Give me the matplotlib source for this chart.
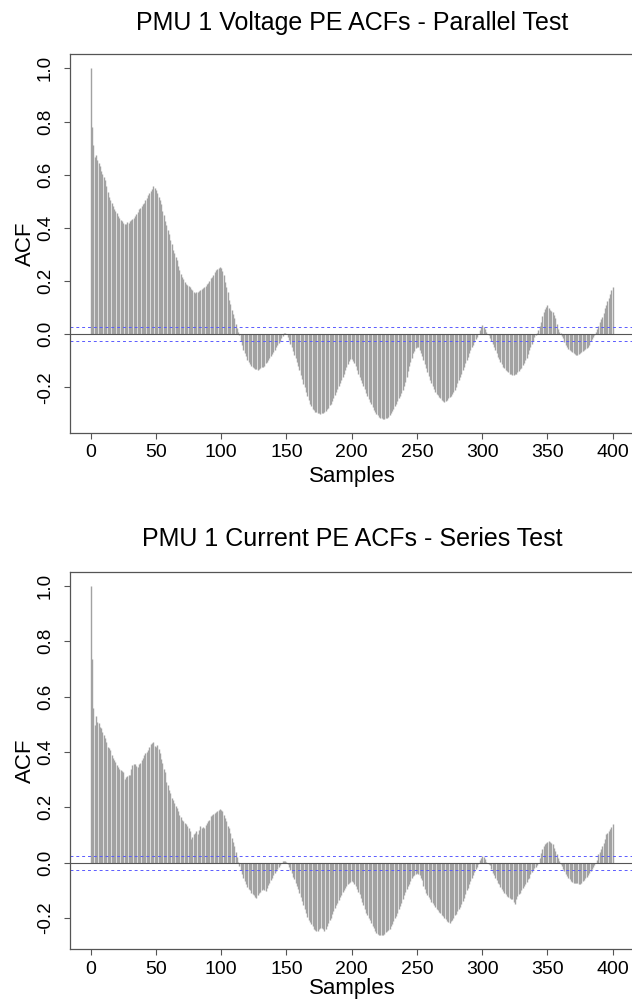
import numpy as np
import matplotlib
matplotlib.use("Agg")
import matplotlib.pyplot as plt

plt.rcParams['font.family'] = ['Liberation Sans', 'DejaVu Sans']
plt.rcParams['axes.unicode_minus'] = False

# sample acf values, lag 0..400 (10 per row)
lags = np.arange(0, 401)

acf_voltage = [
    1.000, 0.781, 0.712, 0.668, 0.674, 0.656, 0.643, 0.632, 0.615, 0.603,
    0.592, 0.580, 0.558, 0.535, 0.518, 0.506, 0.494, 0.482, 0.472, 0.462,
    0.455, 0.444, 0.438, 0.430, 0.424, 0.418, 0.415, 0.416, 0.422, 0.418,
    0.426, 0.428, 0.433, 0.438, 0.445, 0.452, 0.458, 0.470, 0.476, 0.482,
    0.490, 0.495, 0.506, 0.512, 0.523, 0.530, 0.540, 0.548, 0.557, 0.551,
    0.542, 0.530, 0.517, 0.505, 0.490, 0.462, 0.448, 0.425, 0.410, 0.392,
    0.378, 0.355, 0.340, 0.318, 0.304, 0.290, 0.279, 0.255, 0.241, 0.228,
    0.216, 0.206, 0.197, 0.190, 0.185, 0.180, 0.178, 0.170, 0.166, 0.160,
    0.154, 0.157, 0.159, 0.163, 0.168, 0.170, 0.172, 0.176, 0.181, 0.187,
    0.194, 0.200, 0.210, 0.216, 0.222, 0.233, 0.241, 0.246, 0.248, 0.254,
    0.250, 0.236, 0.222, 0.196, 0.178, 0.160, 0.128, 0.112, 0.092, 0.076,
    0.060, 0.038, 0.022, 0.010, -0.004, -0.025, -0.040, -0.058, -0.070, -0.082,
    -0.096, -0.105, -0.112, -0.118, -0.123, -0.127, -0.130, -0.131, -0.133, -0.130,
    -0.128, -0.125, -0.123, -0.118, -0.110, -0.106, -0.098, -0.090, -0.082, -0.075,
    -0.066, -0.058, -0.050, -0.042, -0.032, -0.024, -0.016, -0.008, 0.004, 0.006,
    0.002, -0.010, -0.022, -0.036, -0.048, -0.062, -0.077, -0.091, -0.106, -0.120,
    -0.136, -0.152, -0.170, -0.186, -0.200, -0.216, -0.232, -0.248, -0.262, -0.272,
    -0.280, -0.286, -0.292, -0.294, -0.297, -0.298, -0.299, -0.298, -0.296, -0.292,
    -0.288, -0.283, -0.276, -0.268, -0.261, -0.250, -0.240, -0.228, -0.217, -0.205,
    -0.195, -0.184, -0.173, -0.160, -0.148, -0.135, -0.124, -0.112, -0.100, -0.094,
    -0.092, -0.100, -0.110, -0.120, -0.134, -0.148, -0.161, -0.172, -0.184, -0.196,
    -0.208, -0.220, -0.232, -0.244, -0.254, -0.264, -0.274, -0.284, -0.292, -0.300,
    -0.306, -0.310, -0.314, -0.316, -0.318, -0.318, -0.317, -0.314, -0.310, -0.305,
    -0.298, -0.290, -0.280, -0.272, -0.262, -0.252, -0.242, -0.232, -0.222, -0.210,
    -0.196, -0.180, -0.160, -0.140, -0.120, -0.104, -0.088, -0.072, -0.062, -0.052,
    -0.048, -0.050, -0.058, -0.070, -0.084, -0.098, -0.112, -0.126, -0.142, -0.158,
    -0.172, -0.184, -0.196, -0.206, -0.216, -0.224, -0.230, -0.235, -0.240, -0.246,
    -0.250, -0.255, -0.252, -0.246, -0.242, -0.238, -0.232, -0.225, -0.218, -0.211,
    -0.198, -0.184, -0.172, -0.160, -0.148, -0.136, -0.122, -0.110, -0.098, -0.085,
    -0.072, -0.060, -0.050, -0.040, -0.029, -0.020, -0.010, 0.000, 0.016, 0.026,
    0.034, 0.028, 0.018, 0.008, 0.002, -0.004, -0.014, -0.024, -0.036, -0.048,
    -0.060, -0.072, -0.085, -0.095, -0.106, -0.114, -0.122, -0.129, -0.134, -0.140,
    -0.144, -0.148, -0.151, -0.154, -0.152, -0.150, -0.148, -0.144, -0.138, -0.132,
    -0.126, -0.117, -0.108, -0.096, -0.088, -0.076, -0.060, -0.048, -0.036, -0.024,
    -0.010, -0.004, 0.006, 0.016, 0.030, 0.047, 0.068, 0.085, 0.096, 0.104,
    0.110, 0.100, 0.091, 0.088, 0.085, 0.072, 0.059, 0.040, 0.021, 0.010,
    0.003, -0.008, -0.016, -0.028, -0.040, -0.048, -0.055, -0.060, -0.064, -0.067,
    -0.070, -0.074, -0.078, -0.079, -0.075, -0.070, -0.067, -0.064, -0.060, -0.056,
    -0.052, -0.048, -0.040, -0.025, -0.018, -0.010, -0.004, 0.008, 0.018, 0.030,
    0.047, 0.056, 0.064, 0.080, 0.098, 0.110, 0.125, 0.138, 0.150, 0.166,
    0.178,
]

acf_current = [
    1.000, 0.737, 0.557, 0.497, 0.529, 0.509, 0.503, 0.491, 0.485, 0.472,
    0.462, 0.450, 0.437, 0.418, 0.413, 0.407, 0.390, 0.377, 0.370, 0.365,
    0.352, 0.347, 0.338, 0.335, 0.332, 0.329, 0.302, 0.310, 0.314, 0.316,
    0.317, 0.340, 0.353, 0.356, 0.357, 0.350, 0.347, 0.355, 0.359, 0.370,
    0.377, 0.388, 0.395, 0.401, 0.407, 0.418, 0.428, 0.432, 0.437, 0.422,
    0.419, 0.425, 0.410, 0.395, 0.375, 0.359, 0.340, 0.329, 0.293, 0.280,
    0.263, 0.250, 0.233, 0.225, 0.215, 0.206, 0.197, 0.186, 0.173, 0.164,
    0.155, 0.150, 0.143, 0.138, 0.132, 0.124, 0.114, 0.086, 0.092, 0.102,
    0.108, 0.114, 0.102, 0.118, 0.132, 0.126, 0.128, 0.126, 0.136, 0.143,
    0.150, 0.155, 0.168, 0.173, 0.177, 0.179, 0.183, 0.185, 0.192, 0.194,
    0.191, 0.186, 0.173, 0.160, 0.149, 0.134, 0.124, 0.108, 0.090, 0.075,
    0.060, 0.040, 0.020, 0.004, -0.012, -0.026, -0.040, -0.055, -0.066, -0.078,
    -0.086, -0.094, -0.100, -0.108, -0.114, -0.118, -0.124, -0.126, -0.116, -0.110,
    -0.104, -0.098, -0.096, -0.100, -0.102, -0.090, -0.080, -0.072, -0.064, -0.055,
    -0.046, -0.038, -0.030, -0.022, -0.014, -0.008, 0.000, 0.006, 0.008, 0.008,
    0.002, -0.006, -0.016, -0.026, -0.038, -0.050, -0.060, -0.072, -0.084, -0.096,
    -0.110, -0.124, -0.138, -0.152, -0.166, -0.180, -0.196, -0.206, -0.214, -0.222,
    -0.230, -0.238, -0.242, -0.246, -0.248, -0.240, -0.236, -0.234, -0.240, -0.246,
    -0.238, -0.228, -0.218, -0.208, -0.198, -0.186, -0.174, -0.164, -0.154, -0.144,
    -0.134, -0.124, -0.115, -0.106, -0.098, -0.090, -0.084, -0.078, -0.072, -0.068,
    -0.066, -0.070, -0.078, -0.084, -0.094, -0.104, -0.114, -0.126, -0.140, -0.152,
    -0.166, -0.180, -0.190, -0.200, -0.208, -0.218, -0.228, -0.236, -0.246, -0.252,
    -0.256, -0.261, -0.262, -0.261, -0.261, -0.258, -0.251, -0.248, -0.244, -0.240,
    -0.230, -0.222, -0.212, -0.200, -0.192, -0.180, -0.166, -0.155, -0.144, -0.132,
    -0.118, -0.105, -0.094, -0.084, -0.076, -0.066, -0.056, -0.048, -0.044, -0.040,
    -0.036, -0.040, -0.046, -0.056, -0.062, -0.084, -0.096, -0.110, -0.116, -0.124,
    -0.132, -0.140, -0.146, -0.152, -0.160, -0.168, -0.172, -0.178, -0.182, -0.188,
    -0.192, -0.198, -0.204, -0.210, -0.214, -0.218, -0.212, -0.206, -0.198, -0.190,
    -0.186, -0.176, -0.166, -0.158, -0.148, -0.138, -0.128, -0.112, -0.100, -0.090,
    -0.078, -0.066, -0.054, -0.044, -0.034, -0.024, -0.014, -0.004, 0.010, 0.018,
    0.026, 0.020, 0.014, 0.004, -0.002, -0.004, -0.010, -0.024, -0.036, -0.046,
    -0.056, -0.064, -0.072, -0.078, -0.088, -0.096, -0.102, -0.108, -0.114, -0.120,
    -0.124, -0.126, -0.130, -0.132, -0.140, -0.150, -0.132, -0.120, -0.114, -0.108,
    -0.100, -0.092, -0.084, -0.076, -0.068, -0.060, -0.054, -0.042, -0.034, -0.026,
    -0.018, -0.014, -0.010, -0.002, 0.018, 0.036, 0.050, 0.060, 0.066, 0.072,
    0.075, 0.078, 0.076, 0.072, 0.066, 0.054, 0.044, 0.030, 0.018, 0.006,
    -0.004, -0.012, -0.022, -0.030, -0.040, -0.048, -0.054, -0.060, -0.066, -0.070,
    -0.072, -0.072, -0.073, -0.074, -0.076, -0.078, -0.072, -0.066, -0.062, -0.056,
    -0.050, -0.044, -0.036, -0.030, -0.022, -0.016, -0.010, 0.000, 0.010, 0.030,
    0.040, 0.048, 0.060, 0.072, 0.086, 0.102, 0.106, 0.114, 0.122, 0.130,
    0.138,
]

ci_voltage = 0.026
ci_current = 0.025

titles = ["PMU 1 Voltage PE ACFs - Parallel Test",
          "PMU 1 Current PE ACFs - Series Test"]
x_ticks = [0, 50, 100, 150, 200, 250, 300, 350, 400]
y_ticks = [-0.2, 0.0, 0.2, 0.4, 0.6, 0.8, 1.0]

W, H = 632.0, 1000.0
BAR_COL = '#a2a2a2'
AX_COL = '#555555'
CI_COL = '#5a5aff'


def draw_panel(fig, box, acf, ci, title, title_base, xlab_base):
    left, top, right, bottom = box
    ax = fig.add_axes([left / W, 1 - bottom / H, (right - left) / W, (bottom - top) / H])
    acf = np.asarray(acf)
    lo, hi = acf.min(), acf.max()
    pad = 0.04 * (hi - lo)
    ax.vlines(lags, 0, acf, color=BAR_COL, lw=1.0)
    ax.axhline(0, color=AX_COL, lw=0.8)
    ax.axhline(ci, color=CI_COL, lw=0.7, ls=(0, (3, 3)))
    ax.axhline(-ci, color=CI_COL, lw=0.7, ls=(0, (3, 3)))
    ax.set_xlim(-16, 416)
    ax.set_ylim(lo - pad, hi + pad)
    ax.set_xticks(x_ticks)
    ax.set_xticklabels([str(v) for v in x_ticks], fontsize=14)
    ax.set_yticks(y_ticks)
    ax.set_yticklabels(["%.1f" % v for v in y_ticks], fontsize=13.5,
                       rotation=90, va='center')
    ax.tick_params(axis='x', length=4.3, width=0.8, color=AX_COL, pad=4)
    ax.tick_params(axis='y', length=4.3, width=0.8, color=AX_COL, pad=7)
    for s in ax.spines.values():
        s.set_color(AX_COL)
        s.set_linewidth(0.9)
    fig.text(352 / W, 1 - title_base / H, title, ha='center', va='baseline', fontsize=18)
    fig.text(352 / W, 1 - xlab_base / H, "Samples", ha='center', va='baseline', fontsize=16)
    fig.text(25 / W, 1 - (top + bottom) / 2 / H, "ACF", ha='center', va='center',
             rotation=90, fontsize=16)
    return ax


fig = plt.figure(figsize=(6.32, 10), dpi=100)
draw_panel(fig, (69.8, 54.4, 633.6, 432.7), acf_voltage, ci_voltage, titles[0], 30, 482)
draw_panel(fig, (69.8, 571.7, 633.6, 949.3), acf_current, ci_current, titles[1], 546.5, 994)
fig.savefig("out.png", dpi=100)
